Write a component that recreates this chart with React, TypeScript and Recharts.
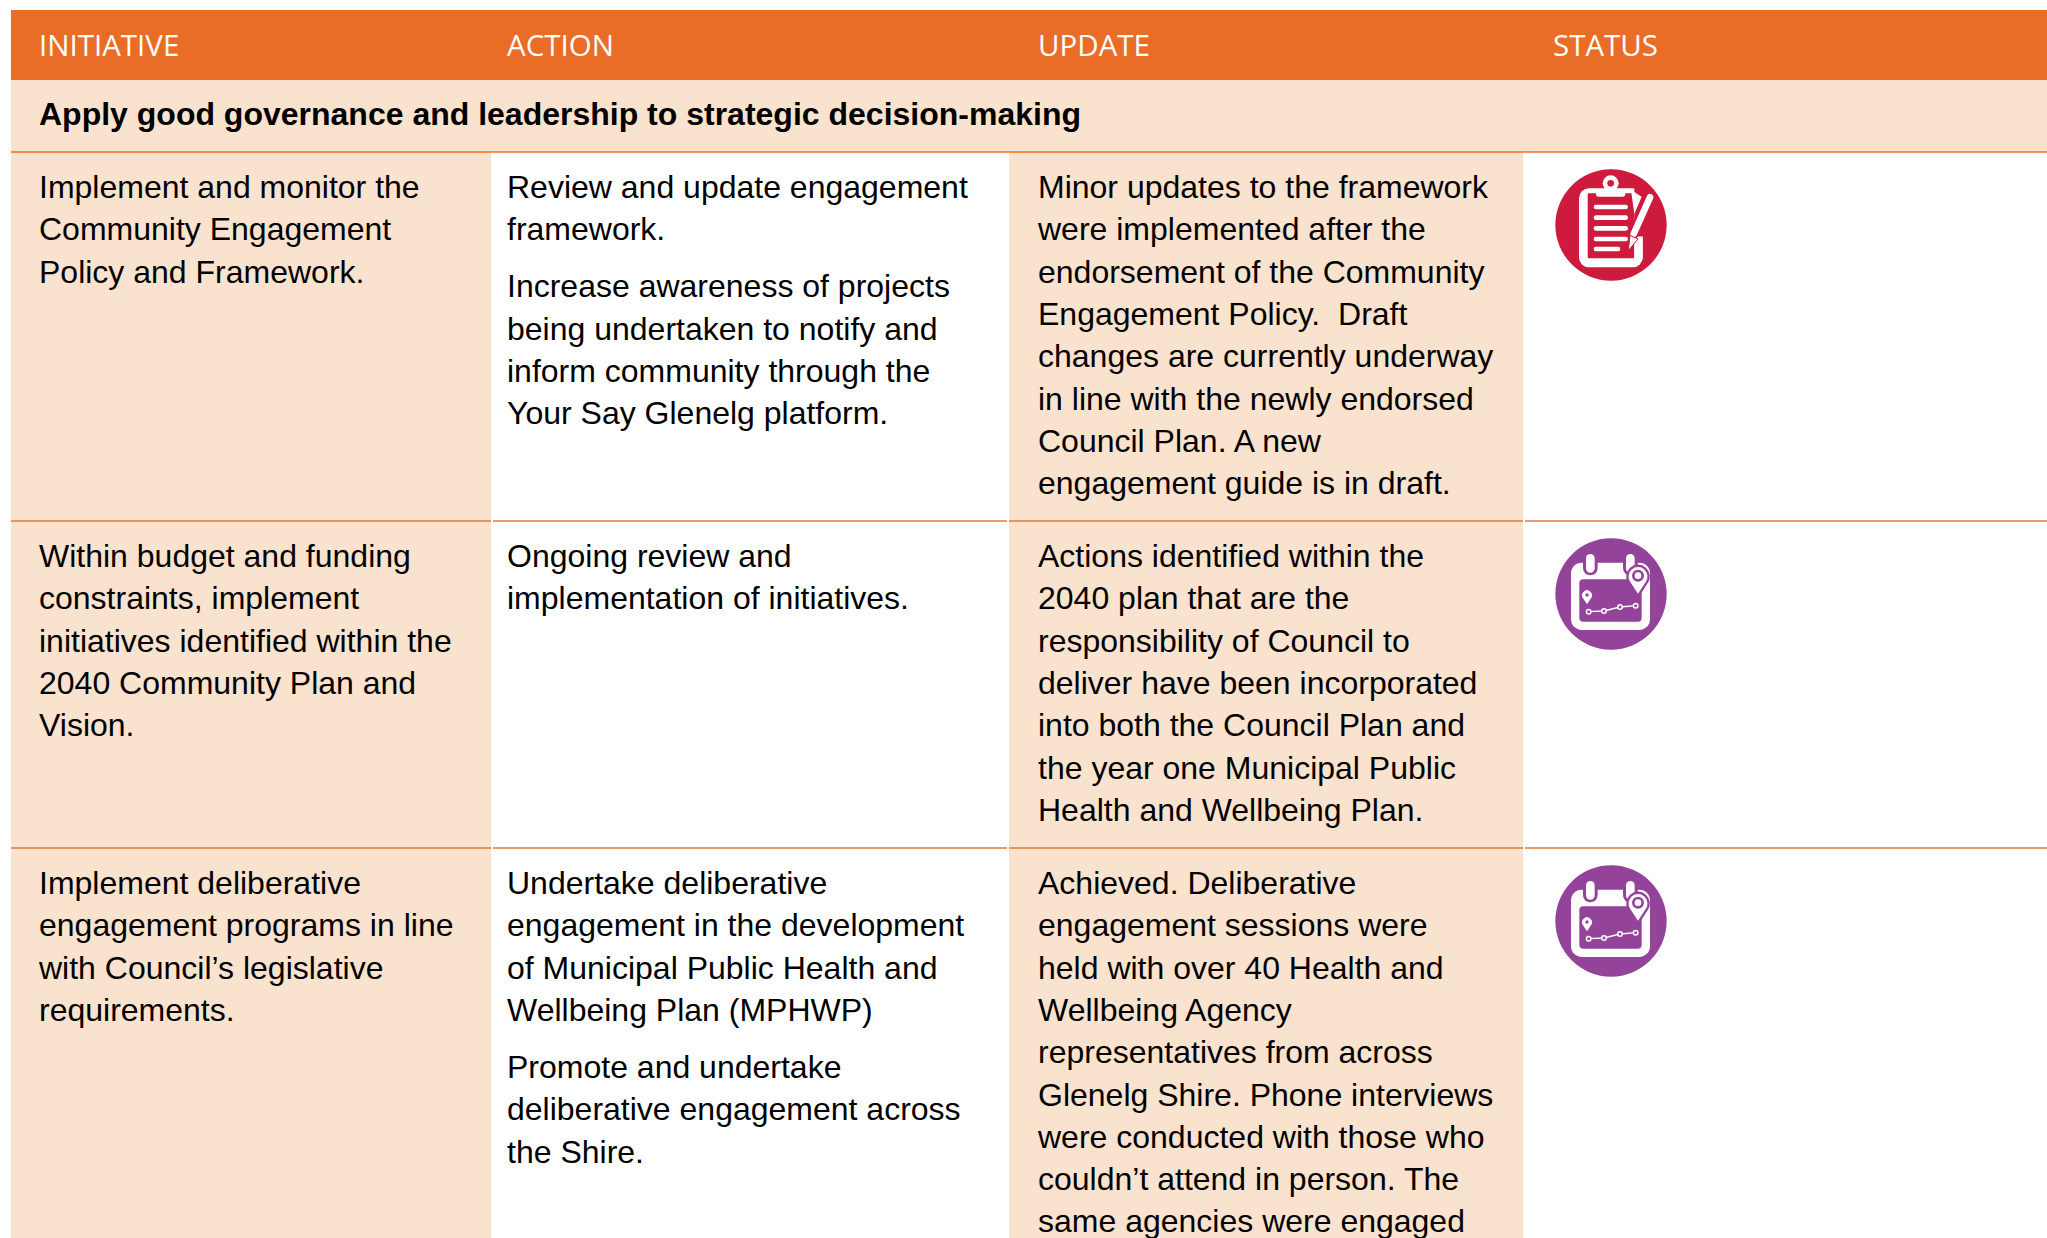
import { ScatterChart, Scatter, XAxis, YAxis, ReferenceArea, ReferenceLine } from 'recharts';

const WIDTH = 2047;
const HEIGHT = 1238;

const HEADERS = ['INITIATIVE', 'ACTION', 'UPDATE', 'STATUS'];
const SECTION_TITLE = 'Apply good governance and leadership to strategic decision-making';

// one entry per table row, paragraphs inside a cell are separate line lists
const INITIATIVES = [
    [['Implement and monitor the', 'Community Engagement', 'Policy and Framework.']],
    [['Within budget and funding', 'constraints, implement', 'initiatives identified within the', '2040 Community Plan and', 'Vision.']],
    [['Implement deliberative', 'engagement programs in line', 'with Council’s legislative', 'requirements.']],
];
const ACTIONS = [
    [
        ['Review and update engagement', 'framework.'],
        ['Increase awareness of projects', 'being undertaken to notify and', 'inform community through the', 'Your Say Glenelg platform.'],
    ],
    [['Ongoing review and', 'implementation of initiatives.']],
    [
        ['Undertake deliberative', 'engagement in the development', 'of Municipal Public Health and', 'Wellbeing Plan (MPHWP)'],
        ['Promote and undertake', 'deliberative engagement across', 'the Shire.'],
    ],
];
const UPDATES = [
    [['Minor updates to the framework', 'were implemented after the', 'endorsement of the Community', 'Engagement Policy.  Draft', 'changes are currently underway', 'in line with the newly endorsed', 'Council Plan. A new', 'engagement guide is in draft.']],
    [['Actions identified within the', '2040 plan that are the', 'responsibility of Council to', 'deliver have been incorporated', 'into both the Council Plan and', 'the year one Municipal Public', 'Health and Wellbeing Plan.']],
    [['Achieved. Deliberative', 'engagement sessions were', 'held with over 40 Health and', 'Wellbeing Agency', 'representatives from across', 'Glenelg Shire. Phone interviews', 'were conducted with those who', 'couldn’t attend in person. The', 'same agencies were engaged']],
];
const STATUSES = ['review', 'planned', 'planned'];

// table geometry, in page pixels
const HEADER_TOP = 10;
const SECTION_TOP = 80;
const ROW_TOPS = [152, 521, 848];
const TABLE_LEFT = 11;
const COL_RIGHTS = [491, 1007, 1523, WIDTH];
const TEXT_X = [39, 507, 1038, 1553];
const LINE_STEP = 42.3;
const PARA_GAP = 57;
const FIRST_BASELINE = 46;
const ICON_OFFSET = 73;

const ORANGE = '#e96d26';
const BEIGE = '#f9e3ce';
const RULE_STRONG = '#f0701c';
const RULE = '#e27a38';
const BODY_FONT = '"Liberation Sans", Arial, sans-serif';

type TextPoint = { x: number; y: number; text: string };

function cellPoints(cells: string[][][], x: number): TextPoint[] {
    const out: TextPoint[] = [];
    cells.forEach((paragraphs, r) => {
        let y = ROW_TOPS[r] + FIRST_BASELINE;
        paragraphs.forEach((lines) => {
            lines.forEach((text, i) => {
                out.push({ x, y, text });
                if (i < lines.length - 1) y += LINE_STEP;
            });
            y += PARA_GAP;
        });
    });
    return out;
}

const headerPoints: TextPoint[] = HEADERS.map((text, i) => ({ x: TEXT_X[i], y: 56, text }));
const sectionPoints: TextPoint[] = [{ x: TEXT_X[0], y: 125, text: SECTION_TITLE }];
const bodyPoints: TextPoint[] = [
    ...cellPoints(INITIATIVES, TEXT_X[0]),
    ...cellPoints(ACTIONS, TEXT_X[1]),
    ...cellPoints(UPDATES, TEXT_X[2]),
];
const iconPoints = STATUSES.map((status, r) => ({ x: 1611, y: ROW_TOPS[r] + ICON_OFFSET, status }));

// rule segments between the column gaps, for the rows after the first
const ruleSpans = [
    [TABLE_LEFT, COL_RIGHTS[0]],
    [COL_RIGHTS[0] + 2, COL_RIGHTS[1]],
    [COL_RIGHTS[1] + 2, COL_RIGHTS[2]],
    [COL_RIGHTS[2] + 2, WIDTH],
];

function textShape(fontFamily: string, fontSize: number, fill: string, fontWeight: number) {
    return (props: any) => (
        <text
            x={props.cx}
            y={props.cy}
            fontFamily={fontFamily}
            fontSize={fontSize}
            fontWeight={fontWeight}
            fill={fill}
            style={{ whiteSpace: 'pre' }}
        >
            {props.payload.text}
        </text>
    );
}

function ReviewIcon() {
    const c = '#ce1a3d';
    return (
        <g transform="scale(0.3333) translate(-333,-255)">
            <circle cx={333} cy={255} r={167} fill={c} />
            <rect x={237} y={145} width={191} height={237} rx={30} fill="#fff" />
            <rect x={263} y={160} width={140} height={195} rx={4} fill={c} />
            <rect x={403} y={140} width={30} height={150} fill={c} />
            <path d="M393 150 L425 170 L403 222 Z" fill="#fff" />
            <rect x={403} y={290} width={25} height={70} fill="#fff" />
            <circle cx={332} cy={130} r={24} fill="#fff" />
            <circle cx={332} cy={130} r={10} fill={c} />
            <rect x={288} y={148} width={88} height={22} rx={8} fill="#fff" />
            {[194, 226, 258, 290].map((y) => (
                <rect key={y} x={281} y={y} width={103} height={14} rx={7} fill="#fff" />
            ))}
            <rect x={281} y={320} width={80} height={14} rx={7} fill="#fff" />
            <path d="M450 172 L401 282" stroke={c} strokeWidth={30} strokeLinecap="round" />
            <path d="M450 172 L401 282" stroke="#fff" strokeWidth={20} strokeLinecap="round" />
            <path d="M385 332 L390 286 L414 297 Z" fill="#fff" stroke={c} strokeWidth={3} />
        </g>
    );
}

function PlannedIcon() {
    const c = '#93439a';
    const dots = [
        [266, 305],
        [312, 303],
        [360, 291],
        [407, 287],
    ];
    return (
        <g transform="scale(0.3333) translate(-333,-252)">
            <circle cx={333} cy={252} r={167} fill={c} />
            <rect x={213} y={158} width={237} height={202} rx={32} fill="#fff" />
            <rect x={238} y={208} width={187} height={127} rx={12} fill={c} />
            {[271, 391].map((x) => (
                <g key={x}>
                    <rect x={x - 22} y={124} width={44} height={72} rx={22} fill={c} />
                    <rect x={x - 13} y={132} width={26} height={56} rx={13} fill="#fff" />
                </g>
            ))}
            <path d="M414 258 L388 218 A32 32 0 1 1 440 218 Z" fill="#fff" stroke={c} strokeWidth={7} />
            <circle cx={414} cy={197} r={18} fill={c} />
            <circle cx={414} cy={197} r={10} fill="#fff" />
            <path d="M261 283 L249 265 A15 15 0 1 1 273 265 Z" fill="#fff" />
            <circle cx={261} cy={255} r={5} fill={c} />
            <polyline points={dots.map((d) => d.join(',')).join(' ')} fill="none" stroke="#fff" strokeWidth={4} />
            {dots.map(([x, y]) => (
                <g key={x}>
                    <circle cx={x} cy={y} r={9} fill="#fff" />
                    <circle cx={x} cy={y} r={4.5} fill={c} />
                </g>
            ))}
        </g>
    );
}

function iconShape(props: any) {
    return (
        <g transform={`translate(${props.cx},${props.cy})`}>
            {props.payload.status === 'review' ? <ReviewIcon /> : <PlannedIcon />}
        </g>
    );
}

export default function App() {
    return (
        <div style={{ position: 'absolute', left: 0, top: 0, width: WIDTH, height: HEIGHT, background: '#fff', overflow: 'hidden' }}>
            <ScatterChart width={WIDTH} height={HEIGHT} margin={{ top: 0, right: 0, bottom: 0, left: 0 }}>
                <XAxis type="number" dataKey="x" domain={[0, WIDTH]} hide />
                <YAxis type="number" dataKey="y" domain={[0, HEIGHT]} reversed hide />

                <ReferenceArea x1={TABLE_LEFT} x2={WIDTH} y1={HEADER_TOP} y2={SECTION_TOP} fill={ORANGE} fillOpacity={1} stroke="none" />
                <ReferenceArea x1={TABLE_LEFT} x2={WIDTH} y1={SECTION_TOP} y2={ROW_TOPS[0]} fill={BEIGE} fillOpacity={1} stroke="none" />
                <ReferenceArea x1={TABLE_LEFT} x2={COL_RIGHTS[0]} y1={ROW_TOPS[0]} y2={HEIGHT} fill={BEIGE} fillOpacity={1} stroke="none" />
                <ReferenceArea x1={COL_RIGHTS[1] + 2} x2={COL_RIGHTS[2]} y1={ROW_TOPS[0]} y2={HEIGHT} fill={BEIGE} fillOpacity={1} stroke="none" />

                <ReferenceLine segment={[{ x: TABLE_LEFT, y: ROW_TOPS[0] }, { x: WIDTH, y: ROW_TOPS[0] }]} stroke={RULE_STRONG} strokeWidth={1.5} />
                {ROW_TOPS.slice(1).flatMap((y) =>
                    ruleSpans.map(([x1, x2]) => (
                        <ReferenceLine key={`${y}-${x1}`} segment={[{ x: x1, y }, { x: x2, y }]} stroke={RULE} strokeWidth={1.5} />
                    )),
                )}

                <Scatter data={headerPoints} isAnimationActive={false} shape={textShape('"Open Sans", sans-serif', 29.5, '#fff', 500)} />
                <Scatter data={sectionPoints} isAnimationActive={false} shape={textShape(BODY_FONT, 32, '#000', 700)} />
                <Scatter data={bodyPoints} isAnimationActive={false} shape={textShape(BODY_FONT, 32, '#000', 400)} />
                <Scatter data={iconPoints} isAnimationActive={false} shape={iconShape} />
            </ScatterChart>
        </div>
    );
}
